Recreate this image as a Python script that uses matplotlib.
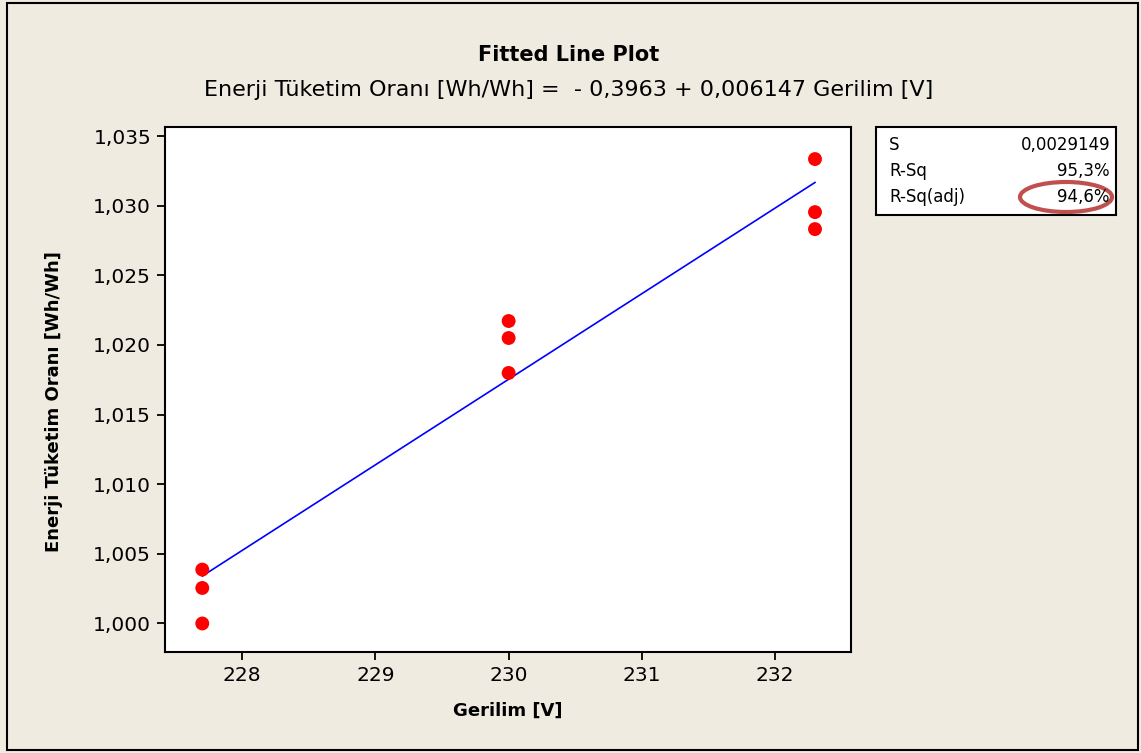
import matplotlib.pyplot as plt
import numpy as np
from matplotlib.patches import Ellipse, Rectangle

# data
gerilim = [227.7, 227.7, 227.7, 230.0, 230.0, 230.0, 232.3, 232.3, 232.3]
oran = [1.0000, 1.00255, 1.00387, 1.01799, 1.0205, 1.02172, 1.02832, 1.02954, 1.03335]
x_ticks = [228, 229, 230, 231, 232]
y_ticks = [1.000, 1.005, 1.010, 1.015, 1.020, 1.025, 1.030, 1.035]
stat_names = ['S', 'R-Sq', 'R-Sq(adj)']
stat_values = ['0,0029149', '95,3%', '94,6%']

bg = '#EFEBE1'
plt.rcParams['font.family'] = ['DejaVu Sans']

fig = plt.figure(figsize=(11.41, 7.53), dpi=100, facecolor=bg)
ax = fig.add_axes([0.1446, 0.1341, 0.6012, 0.6972])
ax.set_facecolor('white')

# fitted line
coef = np.polyfit(gerilim, oran, 1)
xs = np.array([min(gerilim), max(gerilim)])
ax.plot(xs, np.polyval(coef, xs), color='#0000FF', linewidth=1.2, zorder=2)
ax.scatter(gerilim, oran, s=100, color='#FF0000', edgecolors='none', zorder=3)

ax.set_xlim(227.42, 232.57)
ax.set_ylim(0.99795, 1.03565)
ax.set_xticks(x_ticks)
ax.set_xticklabels([str(t) for t in x_ticks])
ax.set_yticks(y_ticks)
ax.set_yticklabels([f'{t:.3f}'.replace('.', ',') for t in y_ticks])
ax.tick_params(direction='out', length=6, width=1.3, labelsize=14.5, pad=4)
for sp in ax.spines.values():
    sp.set_linewidth(1.5)
    sp.set_color('black')

ax.set_xlabel('Gerilim [V]', fontsize=13, fontweight='bold', labelpad=12)
ax.set_ylabel('Enerji Tüketim Oranı [Wh/Wh]', fontsize=13, fontweight='bold')
ax.yaxis.set_label_coords(-0.149, 0.478)

fig.text(0.4987, 0.927, 'Fitted Line Plot', ha='center', va='center',
         fontsize=15, fontweight='bold')
fig.text(0.4987, 0.881,
         'Enerji Tüketim Oranı [Wh/Wh] =  - 0,3963 + 0,006147 Gerilim [V]',
         ha='center', va='center', fontsize=16)

# stats box
W, H = 1141, 753
fig.patches.append(Rectangle((876 / W, 1 - 215 / H), 240 / W, 88 / H,
                             transform=fig.transFigure, facecolor='white',
                             edgecolor='black', linewidth=1.5))
rows_y = [145, 171, 197]
for name, val, yy in zip(stat_names, stat_values, rows_y):
    fig.text(889 / W, 1 - yy / H, name, ha='left', va='center', fontsize=12)
    fig.text(1110 / W, 1 - yy / H, val, ha='right', va='center', fontsize=12)
fig.patches.append(Ellipse((1066 / W, 1 - 197 / H), 92 / W, 30 / H,
                           transform=fig.transFigure, facecolor='none',
                           edgecolor='#C0504D', linewidth=3))

# outer frame
fig.patches.append(Rectangle((7 / W, 1 - 750 / H), 1131 / W, 747 / H,
                             transform=fig.transFigure, facecolor='none',
                             edgecolor='black', linewidth=1.5))

fig.savefig('out.png', dpi=100, facecolor=bg)
